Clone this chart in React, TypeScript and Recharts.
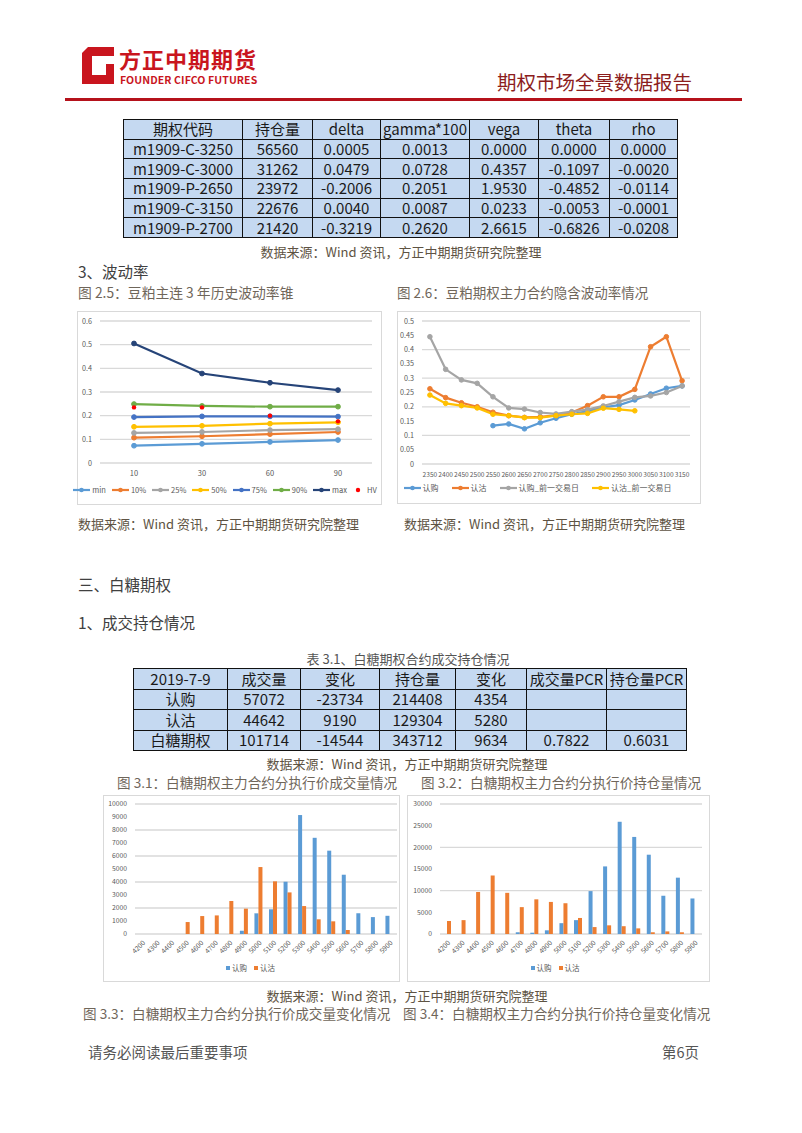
import React from 'react';
import { LineChart, Line, BarChart, Bar, XAxis, YAxis, CartesianGrid, Legend } from 'recharts';

const FONT = "'Noto Sans CJK SC', 'Noto Sans', sans-serif";
const AXIS_GREY = '#595959';
const GRID = '#d9d9d9';
const SRC_COLOR = '#5e5343';
const TITLE_COLOR = '#6f665a';

// greeks table
const greekHeader = ['期权代码', '持仓量', 'delta', 'gamma*100', 'vega', 'theta', 'rho'];
const greekRows = [
  ['m1909-C-3250', '56560', '0.0005', '0.0013', '0.0000', '0.0000', '0.0000'],
  ['m1909-C-3000', '31262', '0.0479', '0.0728', '0.4357', '-0.1097', '-0.0020'],
  ['m1909-P-2650', '23972', '-0.2006', '0.2051', '1.9530', '-0.4852', '-0.0114'],
  ['m1909-C-3150', '22676', '0.0040', '0.0087', '0.0233', '-0.0053', '-0.0001'],
  ['m1909-P-2700', '21420', '-0.3219', '0.2620', '2.6615', '-0.6826', '-0.0208'],
];

// 豆粕 historical vol cone
const coneTerms = ['10', '30', '60', '90'];
const coneMin = [0.073, 0.081, 0.089, 0.097];
const cone10 = [0.107, 0.113, 0.122, 0.131];
const cone25 = [0.127, 0.131, 0.139, 0.143];
const cone50 = [0.153, 0.157, 0.166, 0.172];
const cone75 = [0.194, 0.197, 0.197, 0.196];
const cone90 = [0.249, 0.241, 0.238, 0.238];
const coneMax = [0.505, 0.378, 0.339, 0.308];
const coneHV = [0.235, 0.235, 0.2, 0.176];
const coneTicks = [0, 0.1, 0.2, 0.3, 0.4, 0.5, 0.6];

// 豆粕 implied vol by strike
const ivStrikes = ['2350', '2400', '2450', '2500', '2550', '2600', '2650', '2700', '2750', '2800', '2850', '2900', '2950', '3000', '3050', '3100', '3150'];
const ivCall = [null, null, null, null, 0.134, 0.14, 0.123, 0.144, 0.16, 0.174, 0.185, 0.198, 0.206, 0.224, 0.245, 0.265, 0.273];
const ivPut = [0.263, 0.232, 0.214, 0.2, 0.181, 0.169, 0.163, 0.165, 0.17, 0.18, 0.204, 0.235, 0.235, 0.261, 0.41, 0.445, 0.291];
const ivCallPrev = [0.445, 0.331, 0.294, 0.282, 0.235, 0.196, 0.192, 0.18, 0.175, 0.183, 0.19, 0.203, 0.218, 0.233, 0.238, 0.25, 0.273];
const ivPutPrev = [0.241, 0.212, 0.204, 0.196, 0.174, 0.169, 0.162, 0.162, 0.169, 0.174, 0.177, 0.195, 0.191, 0.186, null, null, null];
const ivTicks = [0, 0.05, 0.1, 0.15, 0.2, 0.25, 0.3, 0.35, 0.4, 0.45, 0.5];

// 白糖 table
const sugarHeader = ['2019-7-9', '成交量', '变化', '持仓量', '变化', '成交量PCR', '持仓量PCR'];
const sugarRows = [
  ['认购', '57072', '-23734', '214408', '4354', '', ''],
  ['认沽', '44642', '9190', '129304', '5280', '', ''],
  ['白糖期权', '101714', '-14544', '343712', '9634', '0.7822', '0.6031'],
];

// 白糖 by strike
const sugarStrikes = ['4200', '4300', '4400', '4500', '4600', '4700', '4800', '4900', '5000', '5100', '5200', '5300', '5400', '5500', '5600', '5700', '5800', '5900'];
const volCall = [0, 0, 0, 0, 0, 0, 0, 250, 1590, 1900, 4020, 9150, 7400, 6410, 4560, 1590, 1300, 1400];
const volPut = [0, 0, 0, 920, 1380, 1430, 2540, 1950, 5150, 4050, 3200, 2150, 1130, 975, 310, 0, 0, 0];
const oiCall = [0, 0, 0, 0, 0, 400, 300, 850, 2500, 3200, 9900, 15600, 25900, 22400, 18300, 8800, 13000, 8200];
const oiPut = [3000, 3200, 9700, 13500, 9500, 6200, 8000, 7400, 7100, 3700, 1600, 2000, 1800, 1300, 400, 600, 400, 0];
const volTicks = [0, 1000, 2000, 3000, 4000, 5000, 6000, 7000, 8000, 9000, 10000];
const oiTicks = [0, 5000, 10000, 15000, 20000, 25000, 30000];

const coneData = coneTerms.map((t, i) => ({
  term: t, min: coneMin[i], p10: cone10[i], p25: cone25[i], p50: cone50[i],
  p75: cone75[i], p90: cone90[i], max: coneMax[i], hv: coneHV[i],
}));
const ivData = ivStrikes.map((k, i) => ({ k, call: ivCall[i], put: ivPut[i], callPrev: ivCallPrev[i], putPrev: ivPutPrev[i] }));
const volData = sugarStrikes.map((k, i) => ({ k, call: volCall[i], put: volPut[i] }));
const oiData = sugarStrikes.map((k, i) => ({ k, call: oiCall[i], put: oiPut[i] }));

const coneSeries = [
  { key: 'min', name: 'min', color: '#5B9BD5' },
  { key: 'p10', name: '10%', color: '#ED7D31' },
  { key: 'p25', name: '25%', color: '#A5A5A5' },
  { key: 'p50', name: '50%', color: '#FFC000' },
  { key: 'p75', name: '75%', color: '#4472C4' },
  { key: 'p90', name: '90%', color: '#70AD47' },
  { key: 'max', name: 'max', color: '#264478' },
];
const ivSeries = [
  { key: 'call', name: '认购', color: '#5B9BD5' },
  { key: 'put', name: '认沽', color: '#ED7D31' },
  { key: 'callPrev', name: '认购_前一交易日', color: '#A5A5A5' },
  { key: 'putPrev', name: '认沽_前一交易日', color: '#FFC000' },
];

const fmt = (v: number) => String(+v.toFixed(2));

function Txt({ x, y, size, color, children, center, weight, spacing }: any) {
  return (
    <div style={{
      position: 'absolute', left: x, top: y - size / 2, fontSize: size, lineHeight: `${size}px`,
      color, fontFamily: FONT, whiteSpace: 'nowrap', fontWeight: weight || 400,
      letterSpacing: spacing || 0, transform: center ? 'translateX(-50%)' : undefined,
    }}>{children}</div>
  );
}

function DataTable({ left, top, cols, rowH, fontSize, header, rows }: any) {
  return (
    <table style={{
      position: 'absolute', left, top, width: cols[cols.length - 1] - cols[0], borderCollapse: 'collapse',
      tableLayout: 'fixed', fontFamily: FONT, fontSize, color: '#1a1a1a',
    }}>
      <colgroup>
        {cols.slice(1).map((c: number, i: number) => <col key={i} style={{ width: c - cols[i] }} />)}
      </colgroup>
      <tbody>
        {[header, ...rows].map((r: string[], ri: number) => (
          <tr key={ri} style={{ height: rowH }}>
            {r.map((cell, ci) => (
              <td key={ci} style={{
                border: '1px solid #111', background: '#c5d9f1', textAlign: 'center', padding: 0,
                lineHeight: `${fontSize + 1}px`, height: rowH - 1, whiteSpace: 'nowrap',
              }}>{cell}</td>
            ))}
          </tr>
        ))}
      </tbody>
    </table>
  );
}

const lineLegend = (items: any[], fontSize: number, gap: number, withHV: boolean) => () => (
  <div style={{ display: 'flex', justifyContent: 'center', alignItems: 'center', fontFamily: FONT, fontSize, color: AXIS_GREY, lineHeight: '14px' }}>
    {items.map((it) => (
      <span key={it.key} style={{ display: 'flex', alignItems: 'center', marginRight: gap }}>
        <svg width={17} height={8}>
          <line x1={0} y1={4} x2={17} y2={4} stroke={it.color} strokeWidth={2.2} />
          <circle cx={8.5} cy={4} r={2.3} fill={it.color} />
        </svg>
        <span style={{ marginLeft: 2 }}>{it.name}</span>
      </span>
    ))}
    {withHV && (
      <span style={{ display: 'flex', alignItems: 'center' }}>
        <svg width={10} height={8}><circle cx={5} cy={4} r={2.2} fill="#FF0000" /></svg>
        <span style={{ marginLeft: 4 }}>HV</span>
      </span>
    )}
  </div>
);

const barLegend = () => (
  <div style={{ display: 'flex', justifyContent: 'center', alignItems: 'center', fontFamily: FONT, fontSize: 7.5, color: AXIS_GREY, lineHeight: '12px' }}>
    <span style={{ display: 'flex', alignItems: 'center', marginRight: 7 }}>
      <span style={{ width: 4, height: 4, background: '#5B9BD5', marginRight: 2 }} />认购
    </span>
    <span style={{ display: 'flex', alignItems: 'center' }}>
      <span style={{ width: 4, height: 4, background: '#ED7D31', marginRight: 2 }} />认沽
    </span>
  </div>
);

function Box({ left, top, width, height, children }: any) {
  return (
    <div style={{ position: 'absolute', left, top, width, height, border: '1px solid #d9d9d9', background: '#fff' }}>
      {children}
    </div>
  );
}

const tickStyle = { fontSize: 7.2, fill: AXIS_GREY };

function ConeChart() {
  return (
    <LineChart width={303} height={192} data={coneData} margin={{ top: 9, right: 9, bottom: 5, left: 0 }} style={{ fontFamily: FONT }}>
      <CartesianGrid vertical={false} stroke={GRID} strokeWidth={1.3} />
      <XAxis dataKey="term" axisLine={false} tickLine={false} height={20} tick={{ fontSize: 7.5, fill: AXIS_GREY }} padding={{ left: 34, right: 34 }} />
      <YAxis width={22} domain={[0, 0.6]} ticks={coneTicks} axisLine={false} tickLine={false} tick={tickStyle} tickFormatter={fmt} />
      {coneSeries.map((s) => (
        <Line key={s.key} dataKey={s.key} name={s.name} stroke={s.color} strokeWidth={2.2}
          dot={{ r: 2.4, fill: s.color, stroke: s.color, strokeWidth: 1 }} isAnimationActive={false} />
      ))}
      <Line dataKey="hv" name="HV" stroke="none" dot={{ r: 2.2, fill: '#FF0000', stroke: 'none' }} isAnimationActive={false} />
      <Legend verticalAlign="bottom" height={16} content={lineLegend(coneSeries, 7.5, 6, true)} />
    </LineChart>
  );
}

function IVChart() {
  return (
    <LineChart width={302} height={191} data={ivData} margin={{ top: 9, right: 10, bottom: 6, left: 0 }} style={{ fontFamily: FONT }}>
      <CartesianGrid vertical={false} stroke={GRID} strokeWidth={1.3} />
      <XAxis dataKey="k" axisLine={false} tickLine={false} height={17} interval={0} tick={{ fontSize: 6.6, fill: AXIS_GREY }} padding={{ left: 7.9, right: 7.9 }} />
      <YAxis width={24} domain={[0, 0.5]} ticks={ivTicks} axisLine={false} tickLine={false} tick={tickStyle} tickFormatter={fmt} />
      {ivSeries.map((s) => (
        <Line key={s.key} dataKey={s.key} name={s.name} stroke={s.color} strokeWidth={2.2}
          dot={{ r: 2.3, fill: s.color, stroke: s.color, strokeWidth: 1 }} isAnimationActive={false} />
      ))}
      <Legend verticalAlign="bottom" height={16} content={lineLegend(ivSeries, 8, 13, false)} />
    </LineChart>
  );
}

function StrikeBars({ data, ticks, max, width, yWidth, right }: any) {
  return (
    <BarChart width={width} height={185} data={data} margin={{ top: 8, right, bottom: 5, left: 0 }}
      barSize={4} barGap={0} style={{ fontFamily: FONT }}>
      <CartesianGrid vertical={false} stroke={GRID} strokeWidth={1.3} />
      <XAxis dataKey="k" axisLine={false} tickLine={false} height={28} interval={0} angle={-45} textAnchor="end"
        tickMargin={0} tick={{ fontSize: 6.8, fill: AXIS_GREY }} />
      <YAxis width={yWidth} domain={[0, max]} ticks={ticks} axisLine={false} tickLine={false} tick={{ fontSize: 6.8, fill: AXIS_GREY }} />
      <Bar dataKey="call" name="认购" fill="#5B9BD5" barSize={4} isAnimationActive={false} />
      <Bar dataKey="put" name="认沽" fill="#ED7D31" barSize={4} isAnimationActive={false} />
      <Legend verticalAlign="bottom" height={14} content={barLegend} />
    </BarChart>
  );
}

export default function App() {
  const src = '数据来源：Wind 资讯，方正中期期货研究院整理';
  return (
    <div style={{ position: 'absolute', left: 0, top: 0, width: 802, height: 1133, background: '#fff', overflow: 'hidden' }}>
      {/* header */}
      <svg style={{ position: 'absolute', left: 0, top: 0 }} width={130} height={100}>
        <polygon points="88,47 114,47 114,84 82,84 82,53" fill="#c9151e" />
        <polygon points="92,56 106,56 106,75 92,75" fill="#fff" />
        <polygon points="106,56 114,56 114,64 106,64" fill="#fff" />
      </svg>
      <Txt x={119} y={58} size={22} color="#c9151e" weight={700} spacing={1}>方正中期期货</Txt>
      <Txt x={120} y={80.5} size={10.5} color="#c9151e" weight={700} spacing={0.1}>FOUNDER CIFCO FUTURES</Txt>
      <Txt x={497} y={82} size={19.5} color="#8c1d1d">期权市场全景数据报告</Txt>
      <div style={{ position: 'absolute', left: 65, top: 98, width: 677, height: 3, background: '#b5121b' }} />

      <DataTable left={123} top={119} cols={[123, 242, 312, 380, 469, 538, 609, 677]} rowH={19.7} fontSize={15}
        header={greekHeader} rows={greekRows} />
      <Txt x={401} y={251} size={13} color={SRC_COLOR} center>{src}</Txt>

      <Txt x={78} y={272} size={15.5} color="#404040">3、波动率</Txt>
      <Txt x={78} y={293} size={13.8} color={TITLE_COLOR}>图 2.5：豆粕主连 3 年历史波动率锥</Txt>
      <Txt x={397} y={293} size={13.5} color={TITLE_COLOR}>图 2.6：豆粕期权主力合约隐含波动率情况</Txt>

      <Box left={77} top={311} width={303} height={192}><ConeChart /></Box>
      <Box left={397} top={311} width={302} height={191}><IVChart /></Box>

      <Txt x={78} y={523} size={13} color={SRC_COLOR}>{src}</Txt>
      <Txt x={404} y={523} size={13} color={SRC_COLOR}>{src}</Txt>

      <Txt x={78} y={585} size={15.5} color="#404040">三、白糖期权</Txt>
      <Txt x={78} y={623} size={15.5} color="#404040">1、成交持仓情况</Txt>
      <Txt x={408} y={658} size={13} color="#555" center>表 3.1、白糖期权合约成交持仓情况</Txt>

      <DataTable left={133} top={668} cols={[133, 227, 300, 379, 455, 526, 606, 686]} rowH={20.5} fontSize={15}
        header={sugarHeader} rows={sugarRows} />
      <Txt x={407} y={763} size={13} color={SRC_COLOR} center>{src}</Txt>

      <Txt x={117} y={783} size={13.6} color={TITLE_COLOR}>图 3.1：白糖期权主力合约分执行价成交量情况</Txt>
      <Txt x={421} y={783} size={13.6} color={TITLE_COLOR}>图 3.2：白糖期权主力合约分执行价持仓量情况</Txt>

      <Box left={103} top={795} width={295} height={185}>
        <StrikeBars data={volData} ticks={volTicks} max={10000} width={295} yWidth={31} right={2} />
      </Box>
      <Box left={407} top={795} width={301} height={185}>
        <StrikeBars data={oiData} ticks={oiTicks} max={30000} width={301} yWidth={32} right={7} />
      </Box>

      <Txt x={407} y={995} size={13} color={SRC_COLOR} center>{src}</Txt>
      <Txt x={83} y={1014} size={13.6} color={TITLE_COLOR}>图 3.3：白糖期权主力合约分执行价成交量变化情况</Txt>
      <Txt x={403} y={1014} size={13.6} color={TITLE_COLOR}>图 3.4：白糖期权主力合约分执行价持仓量变化情况</Txt>

      <Txt x={88} y={1052} size={14.5} color="#555">请务必阅读最后重要事项</Txt>
      <Txt x={662} y={1052} size={14.5} color="#555">第6页</Txt>
    </div>
  );
}
